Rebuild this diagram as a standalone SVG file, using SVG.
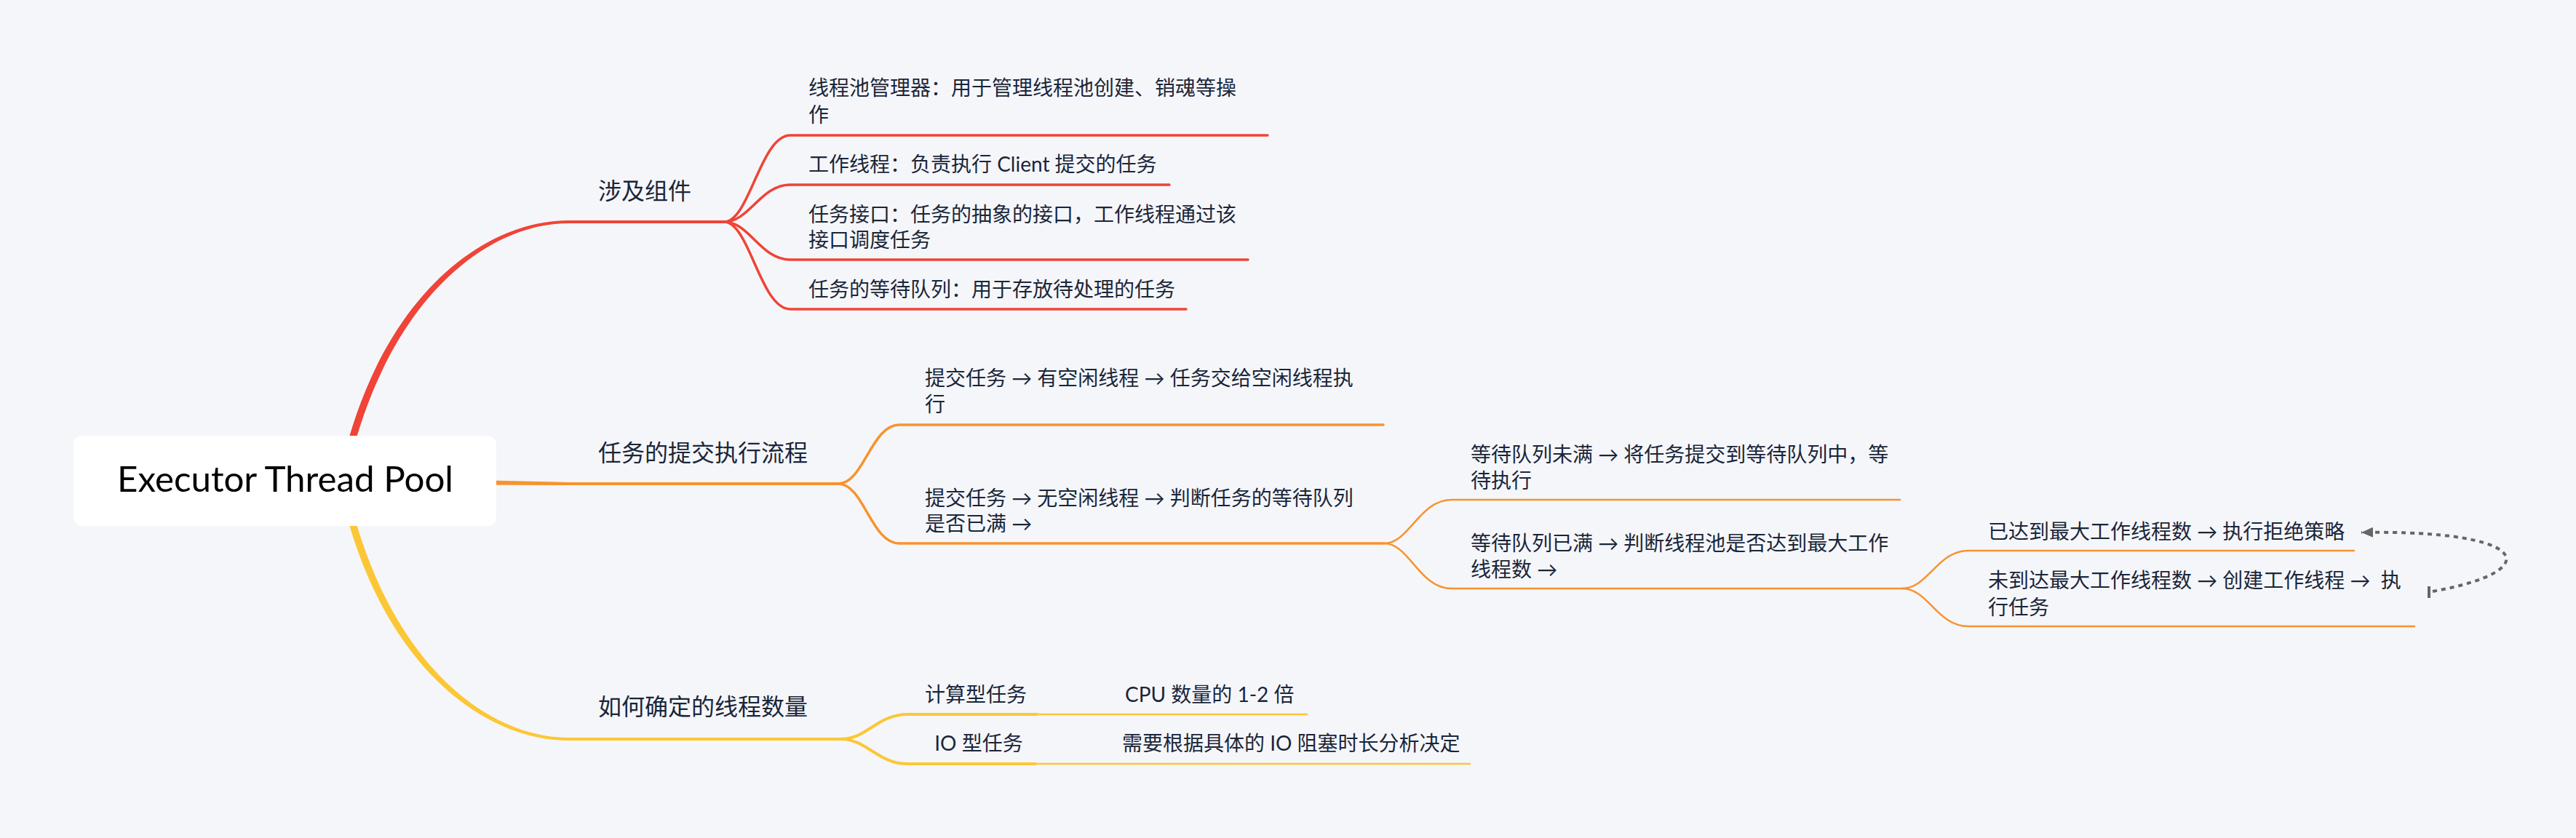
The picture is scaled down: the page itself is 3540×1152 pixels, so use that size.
<svg xmlns="http://www.w3.org/2000/svg" width="3540" height="1152" viewBox="0 0 3540 1152">
<defs>
<style>
.t{font-family:"Lato","Noto Sans CJK SC",sans-serif;font-size:28px;fill:#1a2639}
.t1{font-family:"Lato","Noto Sans CJK SC",sans-serif;font-size:32px;fill:#1a2639}
.root{font-family:"Lato","Noto Sans CJK SC",sans-serif;font-size:48px;fill:#000}
.r{fill:none;stroke:#ef4437;stroke-linecap:round}
.o{fill:none;stroke:#f7932e;stroke-linecap:round}
.y{fill:none;stroke:#fcc736;stroke-linecap:round}
.rel{fill:none;stroke:#666;stroke-width:4;stroke-dasharray:6 6}
</style>
<marker id="arr" viewBox="0 0 16 14" markerWidth="16" markerHeight="14" refX="16" refY="7" orient="auto" markerUnits="userSpaceOnUse">
<path d="M0,0 L16,7 L0,14 Z" fill="#666"/>
</marker>
</defs>
<rect x="0" y="0" width="3540" height="1152" fill="#f5f6fa"/>
<g id="connectors">
<path d="M465,661 C515,417 658,303 782,303 L782,307 C662,307 525,423 475,661 Z" fill="#ef4437"/>
<path d="M470,656 L782,663 L782,667 L470,666 Z" fill="#f7932e"/>
<path d="M465,661 C515,905 658,1018 782,1018 L782,1014 C662,1014 525,899 475,661 Z" fill="#fcc736"/>
<path class="r" stroke-width="4" d="M780,305 H995"/>
<path class="o" stroke-width="4" d="M780,665 H1152"/>
<path class="y" stroke-width="4" d="M780,1016 H1155"/>
<path class="r" stroke-width="3.5" d="M995,305 C1030,305 1045,186 1086,186 H1742"/>
<path class="r" stroke-width="3.5" d="M995,305 C1030,305 1045,254 1086,254 H1607"/>
<path class="r" stroke-width="3.5" d="M995,305 C1030,305 1045,357 1086,357 H1715"/>
<path class="r" stroke-width="3.5" d="M995,305 C1030,305 1045,425 1086,425 H1630"/>
<path class="o" stroke-width="3.5" d="M1152,665 C1187,665 1197,584 1236,584 H1901"/>
<path class="o" stroke-width="3.5" d="M1152,665 C1187,665 1197,747 1236,747 H1902"/>
<path class="o" stroke-width="2.5" d="M1902,747 C1937,747 1950,687 1995,687 H2611"/>
<path class="o" stroke-width="2.5" d="M1902,747 C1937,747 1950,809 1995,809 H2614"/>
<path class="o" stroke-width="2.5" d="M2614,809 C2650,809 2662,757 2705,757 H3235"/>
<path class="o" stroke-width="2.5" d="M2614,809 C2650,809 2662,861 2705,861 H3318"/>
<path class="y" stroke-width="4" d="M1155,1016 C1192,1016 1205,982 1248,982 H1425"/>
<path class="y" stroke-width="2.5" d="M1425,982 H1796"/>
<path class="y" stroke-width="4" d="M1155,1016 C1192,1016 1205,1050 1248,1050 H1423"/>
<path class="y" stroke-width="2.5" d="M1423,1050 H2020"/>
<path class="rel" d="M3343,813 C3500,785 3480,728 3245,732" marker-end="url(#arr)"/>
<path d="M3338,806 V822" stroke="#666" stroke-width="4"/>
</g>
<g id="root">
<rect x="101" y="599" width="581" height="124" rx="12" fill="#fff"/>
<text class="root" x="392" y="676" text-anchor="middle" textLength="462" lengthAdjust="spacingAndGlyphs">Executor Thread Pool</text>
</g>
<g id="n-components"><text class="t1" x="822" y="274">涉及组件</text></g>
<g id="n-manager"><text class="t" x="1111" y="131">线程池管理器：用于管理线程池创建、销魂等操</text><text class="t" x="1111" y="168">作</text></g>
<g id="n-worker"><text class="t" x="1111" y="236">工作线程：负责执行 Client 提交的任务</text></g>
<g id="n-interface"><text class="t" x="1111" y="305">任务接口：任务的抽象的接口，工作线程通过该</text><text class="t" x="1111" y="340">接口调度任务</text></g>
<g id="n-queue"><text class="t" x="1111" y="408">任务的等待队列：用于存放待处理的任务</text></g>
<g id="n-flow"><text class="t1" x="822" y="634">任务的提交执行流程</text></g>
<g id="n-idle"><text class="t" x="1271" y="530">提交任务 → 有空闲线程 → 任务交给空闲线程执</text><text class="t" x="1271" y="566">行</text></g>
<g id="n-noidle"><text class="t" x="1271" y="695">提交任务 → 无空闲线程 → 判断任务的等待队列</text><text class="t" x="1271" y="730">是否已满 →</text></g>
<g id="n-notfull"><text class="t" x="2021" y="635">等待队列未满 → 将任务提交到等待队列中，等</text><text class="t" x="2021" y="671">待执行</text></g>
<g id="n-full"><text class="t" x="2021" y="757">等待队列已满 → 判断线程池是否达到最大工作</text><text class="t" x="2021" y="793">线程数 →</text></g>
<g id="n-reject"><text class="t" x="2732" y="741">已达到最大工作线程数 → 执行拒绝策略</text></g>
<g id="n-create"><text class="t" x="2732" y="808" xml:space="preserve">未到达最大工作线程数 → 创建工作线程 →  执</text><text class="t" x="2732" y="845">行任务</text></g>
<g id="n-count"><text class="t1" x="822" y="983">如何确定的线程数量</text></g>
<g id="n-cpu"><text class="t" x="1341" y="965" text-anchor="middle">计算型任务</text></g>
<g id="n-cpu-val"><text class="t" x="1546" y="965">CPU 数量的 1-2 倍</text></g>
<g id="n-io"><text class="t" x="1345" y="1032" text-anchor="middle">IO 型任务</text></g>
<g id="n-io-val"><text class="t" x="1542" y="1032">需要根据具体的 IO 阻塞时长分析决定</text></g>
</svg>
